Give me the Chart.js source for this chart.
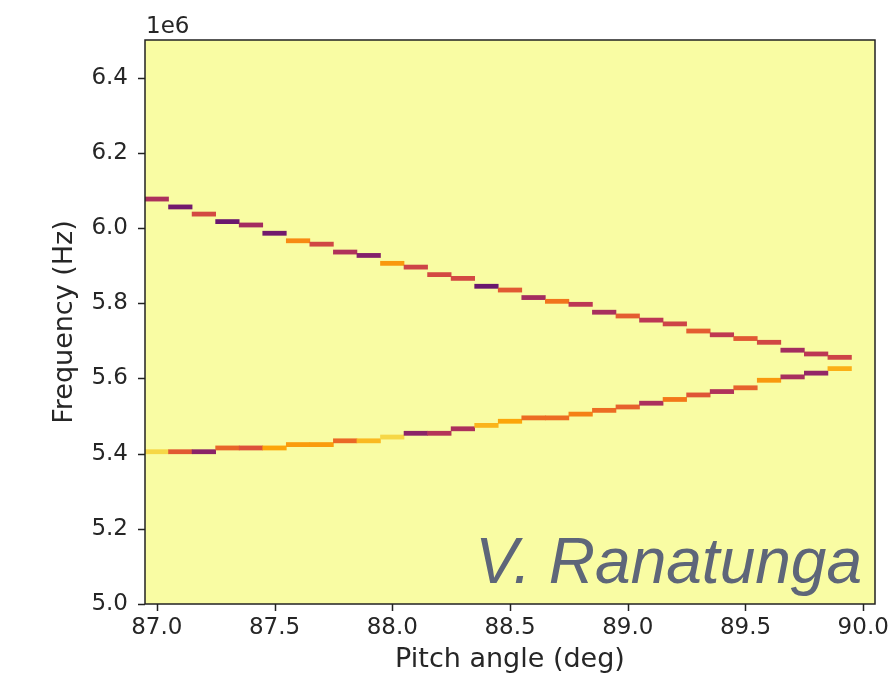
<!DOCTYPE html>
<html>
<head>
<meta charset="utf-8">
<script src="https://cdn.jsdelivr.net/npm/chart.js@4.4.1/dist/chart.umd.min.js"></script>
<style>
  body { margin: 0; background: #fff; }
  #wrap { width: 893px; height: 675px; }
</style>
</head>
<body>
<div id="wrap"><canvas id="specChart"></canvas></div>
<script>
// pitch angle bins (deg), centre of each 0.1 deg column
const pitchAngle = [87.0, 87.1, 87.2, 87.3, 87.4, 87.5, 87.6, 87.7, 87.8, 87.9,
                    88.0, 88.1, 88.2, 88.3, 88.4, 88.5, 88.6, 88.7, 88.8, 88.9,
                    89.0, 89.1, 89.2, 89.3, 89.4, 89.5, 89.6, 89.7, 89.8, 89.9];
// peak frequency in each column (MHz), upper and lower branch
const upperFreqMHz = [6.077, 6.056, 6.037, 6.017, 6.008, 5.986, 5.966, 5.957, 5.936, 5.927,
                      5.906, 5.896, 5.876, 5.866, 5.845, 5.835, 5.815, 5.805, 5.797, 5.776,
                      5.766, 5.755, 5.745, 5.726, 5.716, 5.706, 5.696, 5.675, 5.665, 5.656];
const lowerFreqMHz = [5.405, 5.405, 5.405, 5.415, 5.415, 5.415, 5.424, 5.424, 5.434, 5.434,
                      5.444, 5.454, 5.454, 5.466, 5.475, 5.486, 5.495, 5.495, 5.505, 5.515,
                      5.524, 5.534, 5.544, 5.556, 5.565, 5.575, 5.595, 5.604, 5.614, 5.626];
// colour level of each cell on the inferno scale (0..1)
const upperLevel = [0.46, 0.32, 0.57, 0.30, 0.44, 0.32, 0.74, 0.56, 0.47, 0.36,
                    0.77, 0.55, 0.57, 0.57, 0.30, 0.62, 0.44, 0.69, 0.50, 0.45,
                    0.63, 0.50, 0.55, 0.63, 0.51, 0.62, 0.56, 0.44, 0.50, 0.55];
const lowerLevel = [0.90, 0.62, 0.38, 0.65, 0.60, 0.80, 0.78, 0.78, 0.66, 0.84,
                    0.90, 0.38, 0.48, 0.46, 0.83, 0.80, 0.67, 0.67, 0.72, 0.67,
                    0.64, 0.46, 0.70, 0.61, 0.47, 0.64, 0.77, 0.45, 0.40, 0.82];
const xTicks = [87.0, 87.5, 88.0, 88.5, 89.0, 89.5, 90.0];
const yTicks = [5.0, 5.2, 5.4, 5.6, 5.8, 6.0, 6.2, 6.4];

const freqBin = 11000; // Hz, height of one cell

const inferno = ['#000004', '#160b39', '#420a68', '#6a176e', '#932667', '#bc3754',
                 '#dd513a', '#f37819', '#fca50a', '#f6d746', '#fcffa4'];
function hex2rgb(h) {
  return [parseInt(h.slice(1, 3), 16), parseInt(h.slice(3, 5), 16), parseInt(h.slice(5, 7), 16)];
}
function infernoColor(t) {
  const p = Math.min(Math.max(t, 0), 1) * 10;
  const i = Math.min(Math.floor(p), 9);
  const f = p - i;
  const a = hex2rgb(inferno[i]), b = hex2rgb(inferno[i + 1]);
  const c = a.map((v, k) => Math.round(v + (b[k] - v) * f));
  return 'rgb(' + c.join(',') + ')';
}

function cells(freqs) {
  return pitchAngle.map((x, i) => ({ x: x, y: [freqs[i] * 1e6 - freqBin / 2, freqs[i] * 1e6 + freqBin / 2] }));
}

const tickLen = 7;

const frame = {
  id: 'frame',
  beforeDatasetsDraw(chart) {
    const { ctx, chartArea: a } = chart;
    ctx.save();
    ctx.fillStyle = '#f9fca3';
    ctx.fillRect(a.left, a.top, a.right - a.left, a.bottom - a.top);
    ctx.restore();
  },
  afterDraw(chart) {
    const { ctx, chartArea: a } = chart;
    const xs = chart.scales.x, ys = chart.scales.y;
    ctx.save();
    // watermark
    ctx.font = 'italic 64px "Liberation Sans"';
    ctx.fillStyle = '#5e6679';
    ctx.textAlign = 'right';
    ctx.textBaseline = 'alphabetic';
    ctx.fillText('V. Ranatunga', 862, 583);
    // spines
    ctx.strokeStyle = '#222';
    ctx.lineWidth = 1.5;
    ctx.strokeRect(a.left, a.top, a.right - a.left, a.bottom - a.top);
    // tick marks
    ctx.beginPath();
    xTicks.forEach(v => {
      const px = Math.round(xs.getPixelForValue(v)) + 0.5;
      ctx.moveTo(px, a.bottom);
      ctx.lineTo(px, a.bottom + tickLen);
    });
    yTicks.forEach(v => {
      const py = Math.round(ys.getPixelForValue(v * 1e6)) + 0.5;
      ctx.moveTo(a.left, py);
      ctx.lineTo(a.left - tickLen, py);
    });
    ctx.stroke();
    // offset text
    ctx.font = '23px "DejaVu Sans"';
    ctx.fillStyle = '#262626';
    ctx.textAlign = 'left';
    ctx.fillText('1e6', 146, 33);
    ctx.restore();
  }
};

const tickFont = { family: 'DejaVu Sans', size: 23 };
const titleFont = { family: 'DejaVu Sans', size: 27, lineHeight: 1 };

new Chart(document.getElementById('specChart'), {
  type: 'bar',
  data: {
    datasets: [
      { data: cells(upperFreqMHz), backgroundColor: upperLevel.map(infernoColor), grouped: false },
      { data: cells(lowerFreqMHz), backgroundColor: lowerLevel.map(infernoColor), grouped: false }
    ]
  },
  options: {
    responsive: true,
    maintainAspectRatio: false,
    animation: false,
    devicePixelRatio: 1,
    barPercentage: 1,
    categoryPercentage: 1,
    layout: { padding: { top: 40, right: 18, left: 0, bottom: 0 } },
    plugins: { legend: { display: false }, tooltip: { enabled: false } },
    scales: {
      x: {
        type: 'linear',
        offset: false,
        min: 86.95,
        max: 90.05,
        afterBuildTicks: s => { s.ticks = xTicks.map(v => ({ value: v })); },
        afterFit: s => { s.height = 71; },
        grid: { display: false, drawTicks: true, tickLength: tickLen },
        border: { display: false },
        ticks: { font: tickFont, color: '#262626', padding: 3, maxRotation: 0,
                 callback: v => Number(v).toFixed(1) },
        title: { display: true, text: 'Pitch angle (deg)', font: titleFont, color: '#262626',
                 padding: { top: 0, bottom: 2 } }
      },
      y: {
        min: 5.0e6,
        max: 6.5e6,
        afterBuildTicks: s => { s.ticks = yTicks.map(v => ({ value: v * 1e6 })); },
        afterFit: s => { s.width = 145; },
        grid: { display: false, drawTicks: true, tickLength: tickLen },
        border: { display: false },
        ticks: { font: tickFont, color: '#262626', padding: 10,
                 callback: v => (v / 1e6).toFixed(1) },
        title: { display: true, text: 'Frequency (Hz)', font: titleFont, color: '#262626',
                 padding: { top: 51, bottom: 0 } }
      }
    }
  },
  plugins: [frame]
});
</script>
</body>
</html>
